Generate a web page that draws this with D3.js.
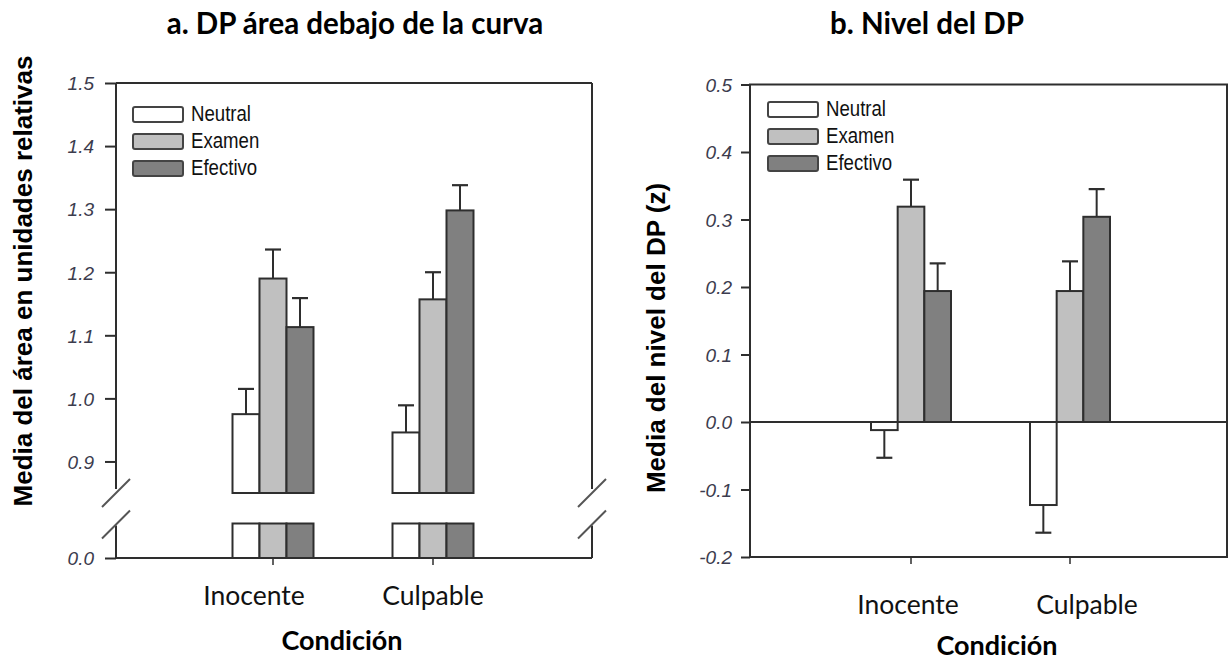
<!DOCTYPE html>
<html>
<head>
<meta charset="utf-8">
<script src="https://cdn.jsdelivr.net/npm/d3@7"></script>
<style>
  body { margin: 0; background: #fff; }
  svg { display: block; }
  .tick-lbl { font-family: "Liberation Sans", Arial, sans-serif; font-style: italic; font-size: 19px; fill: #3c3c4e; }
  .legend-lbl { font-family: "Liberation Sans", Arial, sans-serif; font-size: 23px; fill: #111; }
  .cat-lbl { font-family: Lato, "Open Sans", sans-serif; font-size: 26.5px; fill: #111; }
  .x-title { font-family: Lato, "Open Sans", sans-serif; font-weight: bold; font-size: 27px; fill: #000; }
  .y-title { font-family: "Liberation Sans", Arial, sans-serif; font-weight: bold; font-size: 26px; fill: #000; }
  .panel-title { font-family: Lato, "Open Sans", sans-serif; font-weight: bold; font-size: 29.5px; fill: #000; }
</style>
</head>
<body>
<svg id="chart" width="1230" height="660"></svg>
<script>
const categories = ['Inocente', 'Culpable'];
const series = ['Neutral', 'Examen', 'Efectivo'];
const colors = ['#ffffff', '#c0c0c0', '#808080'];

// panel a: área debajo de la curva (media, error)
const areaMeans = [
  [0.975, 1.190, 1.113],
  [0.946, 1.157, 1.298]
];
const areaErrors = [
  [0.040, 0.046, 0.046],
  [0.043, 0.043, 0.040]
];
const areaTicksUpper = [0.9, 1.0, 1.1, 1.2, 1.3, 1.4, 1.5];
const areaTicksLower = [0.0];

// panel b: nivel del DP (z)
const levelMeans = [
  [-0.012, 0.319, 0.194],
  [-0.123, 0.194, 0.304]
];
const levelErrors = [
  [0.041, 0.040, 0.041],
  [0.041, 0.044, 0.041]
];
const levelTicks = [-0.2, -0.1, 0.0, 0.1, 0.2, 0.3, 0.4, 0.5];

const svg = d3.select('#chart');
const stroke = '#2e2e2e';

function addErrorBar(g, x, y0, y1) {
  g.append('line')
    .attr('x1', x).attr('x2', x).attr('y1', y0).attr('y2', y1)
    .attr('stroke', stroke).attr('stroke-width', 2);
  g.append('line')
    .attr('x1', x - 8).attr('x2', x + 8).attr('y1', y1).attr('y2', y1)
    .attr('stroke', stroke).attr('stroke-width', 2.2);
}

function addLegend(g, x, y) {
  series.forEach((s, i) => {
    g.append('rect')
      .attr('x', x).attr('y', y + i * 27)
      .attr('width', 50).attr('height', 15).attr('rx', 2)
      .attr('fill', colors[i]).attr('stroke', '#444').attr('stroke-width', 2);
    // texto estrecho, como en el original
    g.append('text')
      .attr('class', 'legend-lbl')
      .attr('transform', `translate(${x + 58},${y + i * 27 + 14}) scale(0.81,1)`)
      .text(s);
  });
}

function addSlash(g, cx, cy) {
  g.append('line')
    .attr('x1', cx - 14).attr('y1', cy + 14)
    .attr('x2', cx + 14).attr('y2', cy - 14)
    .attr('stroke', '#555').attr('stroke-width', 2);
}

// ---------- panel a ----------
(function panelA() {
  const g = svg.append('g');
  const left = 116, right = 592;

  const yUp = d3.scaleLinear().domain([0.85, 1.5]).range([493, 83]);
  const yLow = d3.scaleLinear().domain([0, 0.055]).range([558, 523.5]);

  const x0 = d3.scaleBand().domain(categories).range([193, 513]);
  const x1 = d3.scaleBand().domain(series).range([-40.5, 40.5]);
  const cx = c => x0(c) + x0.bandwidth() / 2;

  // frame
  const top = yUp.range()[1], bottom = yLow.range()[0];
  const breakHi = yUp(0.85), breakLo = yLow(0.055);
  g.append('line').attr('x1', left).attr('x2', right).attr('y1', top).attr('y2', top)
    .attr('stroke', stroke).attr('stroke-width', 2);
  g.append('line').attr('x1', left).attr('x2', right).attr('y1', bottom).attr('y2', bottom)
    .attr('stroke', stroke).attr('stroke-width', 2);
  [left, right].forEach(x => {
    g.append('line').attr('x1', x).attr('x2', x).attr('y1', top).attr('y2', breakHi - 4)
      .attr('stroke', stroke).attr('stroke-width', 2);
    g.append('line').attr('x1', x).attr('x2', x).attr('y1', breakLo + 2).attr('y2', bottom)
      .attr('stroke', stroke).attr('stroke-width', 2);
    addSlash(g, x, breakHi);
    addSlash(g, x, breakLo + 1);
  });

  // y ticks
  const yAxisUp = d3.axisLeft(yUp).tickValues(areaTicksUpper).tickSize(11).tickFormat(d3.format('.1f'));
  const yAxisLow = d3.axisLeft(yLow).tickValues(areaTicksLower).tickSize(11).tickFormat(d3.format('.1f'));
  [yAxisUp, yAxisLow].forEach(ax => {
    const a = g.append('g').attr('transform', `translate(${left},0)`).call(ax);
    a.select('.domain').remove();
    a.selectAll('line').attr('stroke', stroke).attr('stroke-width', 2);
    a.selectAll('text').attr('class', 'tick-lbl').attr('x', -22).attr('dy', '0.36em')
      .attr('font-size', null).attr('font-family', null).attr('fill', null);
  });

  // x ticks
  categories.forEach(c => {
    g.append('line').attr('x1', cx(c)).attr('x2', cx(c)).attr('y1', bottom).attr('y2', bottom + 7)
      .attr('stroke', stroke).attr('stroke-width', 1.5);
  });

  // bars
  categories.forEach((c, ci) => {
    series.forEach((s, si) => {
      const bx = cx(c) + x1(s);
      const v = areaMeans[ci][si];
      g.append('rect')
        .attr('x', bx).attr('width', x1.bandwidth())
        .attr('y', yUp(v)).attr('height', yUp(0.85) - yUp(v))
        .attr('fill', colors[si]).attr('stroke', stroke).attr('stroke-width', 2);
      g.append('rect')
        .attr('x', bx).attr('width', x1.bandwidth())
        .attr('y', yLow(0.055)).attr('height', yLow(0) - yLow(0.055))
        .attr('fill', colors[si]).attr('stroke', stroke).attr('stroke-width', 2);
      addErrorBar(g, bx + x1.bandwidth() / 2, yUp(v), yUp(v + areaErrors[ci][si]));
    });
  });

  g.append('text').attr('class', 'cat-lbl').attr('text-anchor', 'middle')
    .attr('x', cx(categories[0]) - 19).attr('y', 605).text(categories[0]);
  g.append('text').attr('class', 'cat-lbl').attr('text-anchor', 'middle')
    .attr('x', cx(categories[1])).attr('y', 605).text(categories[1]);

  addLegend(g, 133, 107);

  g.append('text').attr('class', 'x-title').attr('text-anchor', 'middle')
    .attr('x', 342).attr('y', 650).text('Condición');
  g.append('text').attr('class', 'y-title').attr('text-anchor', 'middle')
    .attr('transform', 'translate(32,281) rotate(-90)')
    .text('Media del área en unidades relativas');
  g.append('text').attr('class', 'panel-title').attr('text-anchor', 'middle')
    .attr('x', 355).attr('y', 34).text('a. DP área debajo de la curva');
})();

// ---------- panel b ----------
(function panelB() {
  const g = svg.append('g');
  const left = 750, right = 1227;

  const y = d3.scaleLinear().domain([-0.2, 0.5]).range([557, 84.5]);
  const x0 = d3.scaleBand().domain(categories).range([831.5, 1149.5]);
  const x1 = d3.scaleBand().domain(series).range([-40, 40]);
  const cx = c => x0(c) + x0.bandwidth() / 2;

  g.append('rect')
    .attr('x', left).attr('y', y(0.5)).attr('width', right - left).attr('height', y(-0.2) - y(0.5))
    .attr('fill', 'none').attr('stroke', stroke).attr('stroke-width', 2);

  const a = g.append('g').attr('transform', `translate(${left},0)`)
    .call(d3.axisLeft(y).tickValues(levelTicks).tickSize(9).tickFormat(d3.format('.1f')));
  a.select('.domain').remove();
  a.selectAll('line').attr('stroke', stroke).attr('stroke-width', 2);
  a.selectAll('text').attr('class', 'tick-lbl').attr('x', -18).attr('dy', '0.36em')
    .attr('font-size', null).attr('font-family', null).attr('fill', null)
    .text(d => d3.format('.1f')(d).replace('−', '-'));

  categories.forEach(c => {
    g.append('line').attr('x1', cx(c)).attr('x2', cx(c)).attr('y1', y(-0.2)).attr('y2', y(-0.2) + 7)
      .attr('stroke', stroke).attr('stroke-width', 1.5);
  });

  categories.forEach((c, ci) => {
    series.forEach((s, si) => {
      const bx = cx(c) + x1(s);
      const v = levelMeans[ci][si];
      const e = levelErrors[ci][si];
      g.append('rect')
        .attr('x', bx).attr('width', x1.bandwidth())
        .attr('y', y(Math.max(v, 0))).attr('height', Math.abs(y(v) - y(0)))
        .attr('fill', colors[si]).attr('stroke', stroke).attr('stroke-width', 2);
      addErrorBar(g, bx + x1.bandwidth() / 2, y(v), y(v >= 0 ? v + e : v - e));
    });
  });

  g.append('text').attr('class', 'cat-lbl').attr('text-anchor', 'middle')
    .attr('x', cx(categories[0]) - 3).attr('y', 614).text(categories[0]);
  g.append('text').attr('class', 'cat-lbl').attr('text-anchor', 'middle')
    .attr('x', cx(categories[1]) + 17).attr('y', 614).text(categories[1]);

  // zero line
  g.append('line').attr('x1', left).attr('x2', right).attr('y1', y(0)).attr('y2', y(0))
    .attr('stroke', stroke).attr('stroke-width', 2);

  addLegend(g, 768, 102);

  g.append('text').attr('class', 'x-title').attr('text-anchor', 'middle')
    .attr('x', 997).attr('y', 655).text('Condición');
  g.append('text').attr('class', 'y-title').attr('text-anchor', 'middle')
    .attr('transform', 'translate(665,338) rotate(-90)')
    .text('Media del nivel del DP (z)');
  g.append('text').attr('class', 'panel-title').attr('text-anchor', 'middle')
    .attr('x', 927).attr('y', 34).text('b. Nivel del DP');
})();
</script>
</body>
</html>
